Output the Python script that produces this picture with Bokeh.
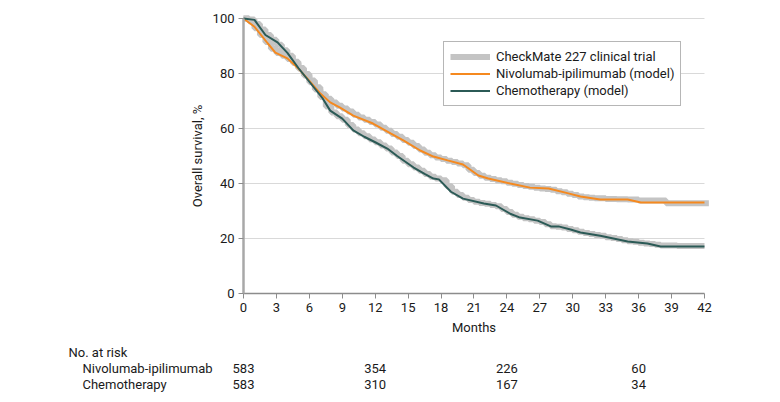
from bokeh.plotting import figure
from bokeh.models import FixedTicker, Legend, LegendItem, Range1d, LinearAxis
from bokeh.core.properties import value
from bokeh.embed import file_html
from bokeh.resources import INLINE

# ---- data ----
nivo_model_months = [0, 1, 2.2, 2.9, 4, 4.9, 5.8, 7, 7.9, 8.8, 10, 11.8, 13.4, 14.6, 16.1, 17.3,
                     18.6, 20, 21.4, 22.3, 24.3, 26.1, 27.8, 29.6, 30.7, 32.5, 35, 36.2, 38, 42]
nivo_model = [100, 97, 91, 87.6, 85.5, 82.2, 78.2, 72.7, 69.5, 67.6, 64.7, 61.8, 58.2, 55.6, 52, 49.8,
              48.4, 46.9, 42.9, 41.8, 40, 38.5, 38.2, 36.4, 35.3, 34.2, 34.2, 33.1, 33.1, 33.1]

chemo_model_months = [0, 1, 2, 3.1, 4, 5, 6, 7.2, 7.9, 9, 10, 11, 12, 13.1, 14, 15.5, 16.5, 17.3, 17.8,
                      18.9, 20, 21.9, 23, 24.3, 25.2, 26.8, 28, 28.7, 29.8, 30.7, 32.5, 35, 36.8, 38, 42]
chemo_model = [100, 99.5, 94, 91.3, 87.5, 82, 77, 71, 66.5, 63.6, 59.3, 57, 55, 52.7, 50, 45.8, 43.5, 41.8, 41.5,
               37, 34.5, 32.7, 32, 29, 27.6, 26.5, 24.4, 24.4, 23.3, 22.2, 21, 18.9, 18.2, 17.1, 17.1]

nivo_trial_months = [0, 0.5, 1, 1.5, 2, 2.5, 3, 3.5, 4, 4.5, 5, 5.5, 6, 6.5, 7, 7.5, 8, 8.5, 9, 9.5,
                     10, 10.5, 11, 11.5, 12, 12.5, 13, 13.5, 14, 14.5, 15, 15.5, 16, 16.5, 17, 17.5,
                     18, 18.5, 19, 19.5, 20, 20.5, 21, 21.5, 22, 22.5, 23, 23.5, 24, 24.5, 25, 25.5,
                     26, 26.5, 27, 27.5, 28, 28.5, 29, 29.5, 30, 30.5, 31, 31.5, 32, 33, 34, 35, 36,
                     38.5, 42.4]
nivo_trial = [100, 99, 96.5, 94, 91.5, 89, 87.5, 86.5, 85.3, 83.8, 82, 79.8, 77.5, 75, 72.5, 70.8, 69.5,
              68.3, 67.3, 66.2, 65, 64, 63.2, 62.4, 61.5, 60.3, 59.2, 58, 57, 55.8, 54.8, 53.6, 52.4,
              51.2, 50.3, 49.5, 48.9, 48.3, 47.8, 47.3, 46.6, 45, 43.8, 42.8, 42.1, 41.6, 41.2, 40.8,
              40.3, 39.9, 39.5, 39.1, 38.8, 38.5, 38.2, 38, 37.7, 37.2, 36.8, 36.3, 35.8, 35.3, 35,
              34.8, 34.6, 34.4, 34.3, 34.2, 33.8, 32.8, 32.8]

chemo_trial_months = [0, 0.5, 1, 1.5, 2, 2.5, 3, 3.5, 4, 4.5, 5, 5.5, 6, 6.5, 7, 7.5, 8, 8.5, 9, 9.5,
                      10, 10.5, 11, 11.5, 12, 12.5, 13, 13.5, 14, 14.5, 15, 15.5, 16, 16.5, 17, 17.5,
                      18, 18.5, 19, 19.5, 20, 20.5, 21, 21.5, 22, 22.5, 23, 23.5, 24, 24.5, 25, 25.5,
                      26, 26.5, 27, 27.5, 28, 28.5, 29, 29.5, 30, 30.5, 31, 31.5, 32, 32.5, 33, 33.5,
                      34, 34.5, 35, 35.5, 36, 36.5, 37, 37.5, 38, 39.5, 42]
chemo_trial = [100, 99.6, 98, 96, 94, 92.3, 90.5, 88.5, 86.5, 84.3, 81.8, 79.3, 76.8, 74.2, 71.5, 68,
               65.8, 64.5, 63.2, 61.3, 59.6, 58.3, 57.2, 56, 55, 53.8, 52.7, 51.3, 50, 48.3, 47, 45.8,
               44.6, 43.5, 42.5, 41.8, 41.2, 39, 37, 35.8, 34.8, 34, 33.4, 32.9, 32.6, 32.2, 31.7,
               30.7, 29.6, 28.6, 27.9, 27.4, 27, 26.5, 26, 25.2, 24.5, 24.3, 24, 23.5, 23, 22.5, 22,
               21.6, 21.3, 21, 20.5, 20.2, 19.8, 19.4, 19, 18.8, 18.5, 18.2, 18, 17.7, 17.5, 17.3, 17.3]

x_ticks = list(range(0, 43, 3))
y_ticks = [0, 20, 40, 60, 80, 100]

risk_header = "No. at risk"
risk_groups = ["Nivolumab-ipilimumab", "Chemotherapy"]
risk_months = [0, 12, 24, 36]
risk_nivo = ["583", "354", "226", "60"]
risk_chemo = ["583", "310", "167", "34"]

FONT = "Roboto"
FS = "13px"
TXT = "#1a1a1a"
GRAY = "#c4c4c4"
ORANGE = "#f5891f"
TEAL = "#2b5a56"

# layout geometry (pixels): origin of data at (243, 293) on the canvas
W, H = 780, 402
X0, Y0 = 243, 293
PXM = 10.976   # px per month
PXP = 2.75     # px per percent


def mx(px):   # horizontal pixel offset -> months
    return px / PXM


def py(px):   # vertical pixel offset below the x axis -> percent units
    return -px / PXP


p = figure(width=W, height=H, output_backend="svg", toolbar_location=None,
           x_range=Range1d(mx(-X0), mx(W - X0)), y_range=Range1d(py(H - Y0), py(-Y0)),
           x_axis_location=None, y_axis_location=None,
           min_border_left=0, min_border_right=0, min_border_top=0, min_border_bottom=0)
p.outline_line_color = None
p.background_fill_color = "white"
p.xgrid.visible = False
p.ygrid.visible = False

# horizontal grid lines at the y ticks, spanning the month axis only
grid_y = [v for v in y_ticks if v > 0]
p.segment(x0=[x_ticks[0]] * len(grid_y), x1=[x_ticks[-1]] * len(grid_y), y0=grid_y, y1=grid_y,
          line_color="#d9d9d9", line_width=1)

r_tn = p.step(nivo_trial_months, nivo_trial, mode="after", line_color=GRAY, line_width=6)
r_tc = p.step(chemo_trial_months, chemo_trial, mode="after", line_color=GRAY, line_width=6)
r_n = p.line(nivo_model_months, nivo_model, line_color=ORANGE, line_width=2)
r_c = p.line(chemo_model_months, chemo_model, line_color=TEAL, line_width=2)

xaxis = LinearAxis(fixed_location=0, ticker=FixedTicker(ticks=x_ticks), bounds=(0, 42),
                   axis_label="Months")
yaxis = LinearAxis(fixed_location=0, ticker=FixedTicker(ticks=y_ticks), bounds=(0, 100),
                   axis_label="Overall survival, %")
for ax in (xaxis, yaxis):
    ax.major_tick_out = 5
    ax.major_tick_in = 0
    ax.minor_tick_out = 0
    ax.minor_tick_in = 0
    ax.major_label_text_font = FONT
    ax.major_label_text_font_size = FS
    ax.major_label_text_color = TXT
    ax.axis_label_text_font = FONT
    ax.axis_label_text_font_size = FS
    ax.axis_label_text_font_style = "normal"
    ax.axis_label_text_color = TXT
    ax.major_label_standoff = 4
xaxis.axis_line_color = "#8c8c8c"
xaxis.axis_line_width = 1.5
xaxis.major_tick_line_color = "#8c8c8c"
yaxis.axis_line_color = "#a8a8a8"
yaxis.axis_line_width = 2.5
yaxis.major_tick_line_color = "#8c8c8c"
xaxis.axis_label_standoff = 5
yaxis.axis_label_standoff = 5
p.add_layout(xaxis, "below")
p.add_layout(yaxis, "left")

legend = Legend(items=[
    LegendItem(label="CheckMate 227 clinical trial", renderers=[r_tn]),
    LegendItem(label="Nivolumab-ipilimumab (model)", renderers=[r_n]),
    LegendItem(label="Chemotherapy (model)", renderers=[r_c]),
], location=(443, H - 106))
legend.label_text_font = FONT
legend.label_text_font_size = FS
legend.label_text_color = TXT
legend.glyph_width = 40
legend.glyph_height = 17
legend.label_height = 17
legend.label_standoff = 6
legend.spacing = 0
legend.padding = 6
legend.margin = 0
legend.border_line_color = "#6e6e6e"
legend.border_line_width = 1
legend.background_fill_alpha = 1
p.add_layout(legend, "center")

# ---- number at risk table ----
row_y = [py(59), py(75), py(91)]
t_kw = dict(text_font=value(FONT), text_font_size=FS, text_color=TXT, text_baseline="middle")
p.text(x=[mx(-175)], y=[row_y[0]], text=[risk_header], text_align="left", **t_kw)
p.text(x=[mx(-161)] * 2, y=row_y[1:], text=risk_groups, text_align="left", **t_kw)
p.text(x=risk_months, y=[row_y[1]] * len(risk_months), text=risk_nivo, text_align="center", **t_kw)
p.text(x=risk_months, y=[row_y[2]] * len(risk_months), text=risk_chemo, text_align="center", **t_kw)

open("out.html", "w").write(file_html(p, INLINE))
